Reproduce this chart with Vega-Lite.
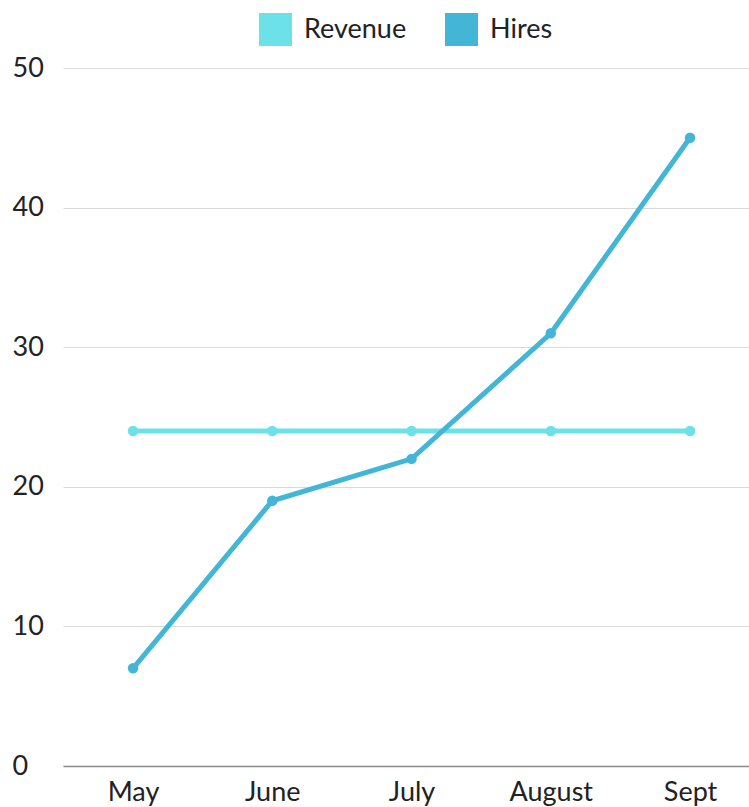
{
  "$schema": "https://vega.github.io/schema/vega-lite/v6.json",
  "width": 686,
  "height": 698,
  "autosize": {"type": "none"},
  "padding": {"left": 63, "top": 68, "right": 0, "bottom": 41},
  "background": "white",
  "config": {
    "font": "Lato",
    "view": {"stroke": null},
    "axis": {"labelFont": "Lato", "labelFontSize": 27, "labelColor": "#222222", "title": null},
    "legend": {"layout": {"top": {"anchor": "middle"}}}
  },
  "data": {
    "values": [
      {"month": "May", "series": "Revenue", "value": 24},
      {"month": "June", "series": "Revenue", "value": 24},
      {"month": "July", "series": "Revenue", "value": 24},
      {"month": "August", "series": "Revenue", "value": 24},
      {"month": "Sept", "series": "Revenue", "value": 24},
      {"month": "May", "series": "Hires", "value": 7},
      {"month": "June", "series": "Hires", "value": 19},
      {"month": "July", "series": "Hires", "value": 22},
      {"month": "August", "series": "Hires", "value": 31},
      {"month": "Sept", "series": "Hires", "value": 45}
    ]
  },
  "mark": {"type": "line", "strokeWidth": 5, "point": {"size": 110, "filled": true, "opacity": 1}},
  "encoding": {
    "x": {
      "field": "month", "type": "ordinal", "sort": ["May", "June", "July", "August", "Sept"],
      "scale": {"type": "point", "padding": 0.463, "align": 0.543},
      "axis": {"labelAngle": 0, "ticks": false, "grid": false, "domain": true, "domainColor": "#8a8a8a", "domainWidth": 1.5, "labelPadding": 13}
    },
    "y": {
      "field": "value", "type": "quantitative",
      "scale": {"domain": [0, 50], "nice": false},
      "axis": {"values": [0, 10, 20, 30, 40, 50], "domain": false, "ticks": false, "tickSize": 0, "grid": true, "gridColor": "#d9d9d9", "gridWidth": 1.2, "labelAlign": "left", "labelPadding": 51, "labelBaseline": "middle"}
    },
    "color": {
      "field": "series", "type": "nominal",
      "scale": {"domain": ["Revenue", "Hires"], "range": ["#6ce2e8", "#43b6d8"]},
      "legend": {
        "orient": "top", "direction": "horizontal", "title": null,
        "symbolType": "square", "symbolSize": 1089, "symbolStrokeWidth": 0, "symbolOpacity": 1,
        "labelFontSize": 27, "labelFont": "Lato", "labelColor": "#222222",
        "labelOffset": 12, "columnPadding": 38, "offset": 22
      }
    }
  }
}
